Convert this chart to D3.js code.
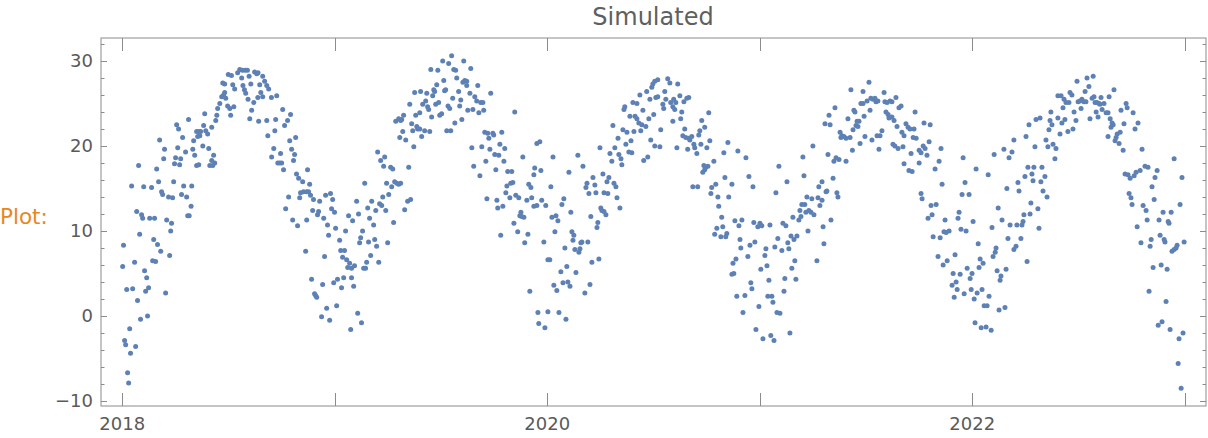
<!DOCTYPE html>
<html>
<head>
<meta charset="utf-8">
<script src="https://cdn.jsdelivr.net/npm/d3@7"></script>
<style>
html,body{margin:0;padding:0;background:#fff;}
svg{display:block;}
</style>
</head>
<body>
<svg id="chart" width="1208" height="438"></svg>
<script>
// Decimal-year / value readings of the simulated series, grouped by time window
const seg01 = [[2018.312,23.1],[2018.256,22.5],[2018.265,22.0],[2018.284,21.0],[2018.176,20.7],[2018.261,19.8],[2018.199,19.6],[2018.298,19.3],[2018.251,18.6],[2018.275,18.5],[2018.195,18.5],[2018.246,17.9],[2018.270,17.8],[2018.077,17.7],[2018.162,17.3],[2018.171,15.8],[2018.242,15.8],[2018.044,15.3],[2018.101,15.2],[2018.138,15.1],[2018.289,15.3],[2018.185,14.6],[2018.190,14.3],[2018.279,14.3],[2018.303,14.0],[2018.218,14.0],[2018.237,13.9],[2018.308,11.8],[2018.315,11.8],[2018.068,12.3],[2018.091,11.9],[2018.096,11.5],[2018.129,11.5],[2018.152,11.5],[2018.209,11.3],[2018.232,10.9],[2018.228,10.0],[2018.082,9.6],[2018.148,9.0],[2018.166,8.4],[2018.006,8.3],[2018.181,7.6],[2018.223,7.1],[2018.058,6.3],[2018.143,6.5],[2018.157,6.4],[2018.002,5.8],[2018.105,5.3],[2018.115,4.5],[2018.021,3.1],[2018.049,3.2],[2018.124,3.3],[2018.110,2.9],[2018.204,2.7],[2018.072,1.8],[2018.086,-0.4],[2018.119,0.0],[2018.035,-1.5],[2018.011,-2.9],[2018.016,-3.4],[2018.063,-3.6],[2018.039,-4.4],[2018.025,-6.7],[2018.030,-7.9]];
const seg02 = [[2018.499,28.4],[2018.514,28.3],[2018.543,28.6],[2018.553,29.0],[2018.565,28.9],[2018.578,28.9],[2018.589,28.9],[2018.623,28.7],[2018.633,28.5],[2018.639,28.6],[2018.562,28.0],[2018.597,28.2],[2018.661,28.2],[2018.473,27.4],[2018.482,27.3],[2018.520,27.2],[2018.529,26.7],[2018.568,27.1],[2018.575,26.6],[2018.605,27.3],[2018.647,27.2],[2018.670,27.6],[2018.680,27.1],[2018.689,26.7],[2018.482,26.3],[2018.477,26.0],[2018.468,25.8],[2018.487,25.6],[2018.581,26.2],[2018.652,26.3],[2018.661,25.8],[2018.702,25.7],[2018.727,25.9],[2018.459,25.0],[2018.592,25.5],[2018.619,25.1],[2018.638,25.7],[2018.449,24.4],[2018.496,24.7],[2018.506,24.4],[2018.525,24.6],[2018.609,24.2],[2018.388,23.8],[2018.445,23.6],[2018.510,23.6],[2018.440,23.0],[2018.600,23.2],[2018.642,22.9],[2018.680,23.0],[2018.722,23.1],[2018.383,22.4],[2018.421,22.2],[2018.350,21.7],[2018.360,21.7],[2018.369,21.7],[2018.393,21.8],[2018.402,21.4],[2018.355,21.1],[2018.365,21.2],[2018.336,20.6],[2018.379,20.0],[2018.407,19.7],[2018.332,19.6],[2018.713,19.7],[2018.703,18.7],[2018.341,18.9],[2018.430,18.9],[2018.718,21.8],[2018.685,21.2],[2018.421,18.3],[2018.435,18.0],[2018.412,17.7],[2018.426,17.7],[2018.350,17.7],[2018.360,17.8],[2018.732,18.0],[2018.741,18.0],[2018.327,15.3],[2018.324,12.9]];
const seg03 = [[2018.755,24.3],[2018.792,23.7],[2018.778,23.0],[2018.764,22.4],[2018.788,20.6],[2018.816,21.0],[2018.797,19.6],[2018.811,19.0],[2018.806,18.3],[2018.745,19.1],[2018.750,18.0],[2018.759,17.2],[2018.872,17.2],[2018.820,16.7],[2018.830,16.2],[2018.849,15.8],[2018.882,15.5],[2018.783,14.0],[2018.769,12.6],[2018.839,14.5],[2018.835,13.9],[2018.853,14.6],[2018.868,14.6],[2018.877,14.6],[2018.886,14.2],[2018.900,13.7],[2018.929,13.5],[2018.957,14.2],[2018.980,14.4],[2018.990,13.7],[2018.896,12.4],[2018.924,12.3],[2018.919,11.9],[2018.948,11.5],[2018.985,12.6],[2018.999,12.2],[2018.802,11.3],[2018.825,10.6],[2018.868,11.3],[2018.966,10.7],[2018.971,9.5],[2019.004,10.3],[2019.023,8.9],[2019.051,10.0],[2018.863,7.6],[2018.952,7.0],[2019.028,7.7],[2019.046,7.7],[2019.037,6.9],[2019.056,6.6],[2019.061,5.7],[2019.070,6.2],[2019.093,5.9],[2019.079,5.6],[2018.891,4.3],[2018.943,3.7],[2018.905,2.6],[2018.910,2.4],[2018.915,2.2],[2018.995,3.9],[2019.013,4.3],[2019.032,3.3],[2019.042,4.5],[2019.079,4.5],[2019.089,3.5],[2018.962,0.9],[2019.009,1.2],[2018.938,-0.1],[2018.976,-0.5],[2019.108,0.3],[2019.126,-0.8],[2019.075,-1.6],[2019.141,15.6],[2019.103,13.5],[2019.155,12.7],[2019.065,11.8],[2019.084,11.2],[2019.112,12.0],[2019.164,11.5],[2019.131,10.0],[2019.122,9.2],[2019.117,8.6],[2019.159,8.7],[2019.150,6.3],[2019.136,5.6],[2019.145,5.6]];
const seg04 = [[2019.550,30.6],[2019.508,30.0],[2019.536,29.7],[2019.452,29.0],[2019.485,28.9],[2019.560,29.0],[2019.569,28.9],[2019.376,26.3],[2019.404,26.4],[2019.433,26.2],[2019.466,26.6],[2019.470,26.4],[2019.461,25.9],[2019.574,28.0],[2019.480,27.2],[2019.513,27.7],[2019.522,26.6],[2019.517,26.5],[2019.583,26.4],[2019.353,24.9],[2019.414,24.9],[2019.428,25.3],[2019.437,24.6],[2019.442,24.3],[2019.475,24.9],[2019.489,25.1],[2019.533,24.7],[2019.541,24.4],[2019.555,25.6],[2019.588,24.7],[2019.381,23.6],[2019.400,23.9],[2019.456,23.4],[2019.494,23.6],[2019.503,23.8],[2019.287,22.9],[2019.301,23.2],[2019.310,23.0],[2019.324,23.6],[2019.315,23.1],[2019.362,22.6],[2019.386,22.3],[2019.390,22.0],[2019.400,22.0],[2019.367,21.8],[2019.423,21.8],[2019.447,21.7],[2019.565,22.7],[2019.527,21.8],[2019.546,21.8],[2019.320,21.7],[2019.306,21.0],[2019.334,20.7],[2019.409,21.1],[2019.372,19.9],[2019.202,19.3],[2019.235,18.7],[2019.216,18.3],[2019.230,17.6],[2019.263,17.5],[2019.273,17.3],[2019.348,17.5],[2019.244,15.6],[2019.268,15.2],[2019.282,15.8],[2019.292,15.6],[2019.301,15.5],[2019.310,15.6],[2019.226,14.0],[2019.254,14.3],[2019.174,13.5],[2019.211,13.2],[2019.221,13.0],[2019.357,13.7],[2019.343,13.5],[2019.329,12.5],[2019.193,12.4],[2019.240,12.4],[2019.277,11.0],[2019.183,10.7],[2019.188,9.0],[2019.249,8.6],[2019.197,8.2],[2019.169,7.1],[2019.207,6.3]];
const seg05 = [[2019.607,30.0],[2019.640,29.1],[2019.612,27.7],[2019.621,27.6],[2019.603,27.5],[2019.621,27.1],[2019.673,27.1],[2019.636,26.2],[2019.659,25.8],[2019.668,25.3],[2019.687,25.1],[2019.697,25.1],[2019.734,26.2],[2019.593,25.4],[2019.626,24.2],[2019.650,24.3],[2019.678,23.9],[2019.701,24.2],[2019.598,23.1],[2019.847,24.0],[2019.706,21.6],[2019.720,21.5],[2019.744,21.5],[2019.748,21.3],[2019.786,21.6],[2019.725,20.9],[2019.645,19.8],[2019.692,19.9],[2019.730,19.6],[2019.777,20.2],[2019.800,19.7],[2019.753,19.0],[2019.772,18.9],[2019.796,18.2],[2019.885,18.7],[2019.951,20.3],[2019.965,20.5],[2019.654,17.6],[2019.711,18.2],[2019.758,17.2],[2019.683,16.5],[2019.814,17.0],[2019.833,17.0],[2019.810,15.3],[2019.828,15.6],[2019.838,15.7],[2019.805,14.5],[2019.824,13.9],[2019.941,17.4],[2019.970,17.1],[2019.937,16.6],[2019.913,15.5],[2019.923,15.1],[2019.927,13.9],[2019.904,13.6],[2019.937,12.9],[2019.951,13.0],[2019.974,13.6],[2019.993,13.0],[2019.852,14.2],[2019.866,13.9],[2019.876,12.2],[2019.871,11.8],[2019.880,11.7],[2019.890,11.6],[2019.716,13.8],[2019.763,13.6],[2019.767,12.7],[2019.791,12.9],[2019.843,10.9],[2019.861,9.9],[2019.909,9.6],[2019.894,8.6],[2019.781,9.5],[2019.984,8.7],[2020.003,6.6],[2020.012,6.6],[2019.918,2.9],[2019.956,0.4],[2020.003,0.5],[2019.960,-0.9],[2019.989,-1.4]];
const seg06 = [[2020.436,26.0],[2020.403,25.1],[2020.422,25.0],[2020.365,24.6],[2020.361,24.3],[2020.389,23.5],[2020.413,23.5],[2020.422,23.2],[2020.431,22.7],[2020.309,22.4],[2020.356,21.9],[2020.375,21.6],[2020.408,21.7],[2020.333,20.9],[2020.318,19.8],[2020.394,20.6],[2020.370,20.2],[2020.384,19.3],[2020.398,19.2],[2020.248,19.8],[2020.295,19.1],[2020.304,18.2],[2020.337,19.0],[2020.347,18.5],[2020.351,17.8],[2020.144,18.9],[2020.168,17.6],[2020.027,18.7],[2020.102,16.9],[2020.262,16.7],[2020.215,16.3],[2020.187,15.6],[2020.182,15.1],[2020.224,15.4],[2020.196,14.4],[2020.229,14.5],[2020.267,14.5],[2020.285,14.4],[2020.281,15.8],[2020.290,16.3],[2020.314,15.6],[2020.323,15.2],[2020.328,13.9],[2020.342,12.7],[2020.017,15.2],[2020.078,13.8],[2020.069,13.1],[2020.111,12.2],[2020.252,12.7],[2020.257,12.4],[2020.267,12.3],[2020.276,11.9],[2020.205,11.7],[2020.238,11.0],[2020.234,10.4],[2020.041,11.8],[2020.022,11.6],[2020.050,11.2],[2020.036,9.9],[2020.116,9.9],[2020.125,9.5],[2020.121,8.9],[2020.158,8.6],[2020.163,8.7],[2020.154,7.9],[2020.149,7.5],[2020.130,7.8],[2020.191,8.7],[2020.083,8.0],[2020.210,6.3],[2020.243,6.7],[2020.064,5.2],[2020.092,5.8],[2020.135,5.1],[2020.031,3.6],[2020.045,3.0],[2020.074,3.9],[2020.097,4.0],[2020.107,3.5],[2020.201,3.7],[2020.177,2.7],[2020.055,0.4],[2020.088,-0.4]];
const seg07 = [[2020.520,27.8],[2020.567,27.9],[2020.577,27.4],[2020.614,27.3],[2020.497,27.3],[2020.506,27.6],[2020.492,26.9],[2020.468,26.4],[2020.553,26.4],[2020.624,25.9],[2020.666,25.7],[2020.657,25.6],[2020.643,25.2],[2020.595,25.5],[2020.605,25.1],[2020.511,25.7],[2020.520,25.8],[2020.483,25.5],[2020.558,25.5],[2020.581,25.1],[2020.544,24.9],[2020.548,24.4],[2020.591,24.6],[2020.600,24.3],[2020.450,24.2],[2020.633,24.0],[2020.760,23.9],[2020.501,23.7],[2020.478,23.2],[2020.628,23.2],[2020.591,22.9],[2020.727,23.0],[2020.445,22.5],[2020.464,22.3],[2020.440,21.8],[2020.741,22.2],[2020.718,21.8],[2020.713,21.3],[2020.534,21.9],[2020.647,22.0],[2020.487,20.7],[2020.638,21.2],[2020.652,21.0],[2020.666,20.9],[2020.680,21.1],[2020.671,20.7],[2020.765,20.6],[2020.850,20.4],[2020.506,20.0],[2020.530,19.9],[2020.610,19.8],[2020.661,19.6],[2020.690,20.2],[2020.694,19.8],[2020.723,20.2],[2020.751,19.8],[2020.704,19.1],[2020.831,19.2],[2020.473,18.7],[2020.454,18.3],[2020.784,18.2],[2020.737,17.7],[2020.746,17.5],[2020.756,17.6],[2020.741,17.2],[2020.732,16.9],[2020.836,16.3],[2020.793,15.5],[2020.774,15.1],[2020.770,14.4],[2020.803,14.0],[2020.854,14.0],[2020.685,15.2],[2020.708,15.2],[2020.807,12.9],[2020.821,11.6],[2020.798,10.3],[2020.826,10.5],[2020.788,9.6],[2020.817,9.3],[2020.840,9.3],[2020.845,9.7]];
const seg08 = [[2021.250,20.0],[2021.203,18.7],[2021.090,17.6],[2020.897,19.4],[2020.935,18.6],[2020.949,16.4],[2020.968,15.2],[2020.869,15.5],[2021.128,15.8],[2021.076,14.5],[2021.208,16.5],[2021.222,14.0],[2021.245,13.8],[2021.274,13.9],[2021.283,13.0],[2021.278,15.2],[2021.198,13.1],[2021.212,13.1],[2021.189,12.4],[2021.217,12.2],[2021.231,12.4],[2021.241,12.2],[2021.255,11.9],[2021.227,10.0],[2021.184,11.3],[2021.156,11.6],[2021.194,11.7],[2020.883,11.2],[2020.916,11.3],[2020.972,11.0],[2020.991,10.5],[2021.001,10.9],[2021.010,10.6],[2021.048,10.7],[2021.109,10.9],[2021.123,10.6],[2020.902,10.6],[2021.085,9.1],[2021.147,9.4],[2021.175,9.4],[2021.161,9.0],[2021.132,8.6],[2021.137,7.9],[2021.104,7.7],[2020.907,9.0],[2020.911,8.0],[2020.977,8.7],[2020.954,8.3],[2021.029,7.9],[2021.024,7.1],[2021.071,8.1],[2020.888,6.7],[2020.874,6.2],[2020.869,4.9],[2020.878,5.0],[2021.034,5.9],[2021.005,5.5],[2020.944,7.0],[2021.165,6.5],[2021.151,5.6],[2021.269,6.5],[2021.118,4.4],[2021.170,4.3],[2021.043,4.2],[2020.958,3.9],[2020.963,3.2],[2021.114,2.9],[2020.892,2.3],[2020.930,2.4],[2021.038,2.3],[2021.057,2.3],[2021.062,1.6],[2020.996,1.1],[2020.921,0.4],[2021.081,0.4],[2021.095,0.3],[2020.982,-1.6],[2021.015,-2.7],[2021.052,-2.3],[2021.067,-2.9],[2021.142,-2.0]];
const seg09 = [[2021.514,27.5],[2021.429,26.6],[2021.486,26.4],[2021.585,26.3],[2021.641,25.7],[2021.505,25.3],[2021.523,25.6],[2021.533,25.5],[2021.542,25.6],[2021.547,25.2],[2021.556,25.3],[2021.476,25.0],[2021.486,25.0],[2021.589,25.2],[2021.599,25.1],[2021.613,25.3],[2021.622,25.2],[2021.655,24.5],[2021.665,24.7],[2021.354,24.5],[2021.443,24.2],[2021.448,24.0],[2021.519,24.2],[2021.594,24.0],[2021.604,23.7],[2021.608,23.3],[2021.622,23.4],[2021.632,23.0],[2021.326,23.6],[2021.307,22.6],[2021.331,22.5],[2021.415,23.2],[2021.491,23.5],[2021.458,22.9],[2021.467,22.9],[2021.453,22.4],[2021.462,22.3],[2021.688,22.6],[2021.698,22.2],[2021.707,22.0],[2021.646,22.3],[2021.669,21.6],[2021.679,21.2],[2021.378,21.6],[2021.387,21.2],[2021.396,21.1],[2021.382,21.0],[2021.406,20.9],[2021.425,21.0],[2021.439,21.9],[2021.495,21.1],[2021.575,21.8],[2021.566,21.2],[2021.552,21.2],[2021.528,20.7],[2021.472,20.3],[2021.627,20.2],[2021.636,20.0],[2021.651,19.7],[2021.674,19.9],[2021.561,19.6],[2021.436,19.5],[2021.321,19.0],[2021.359,18.6],[2021.349,18.2],[2021.373,18.4],[2021.406,18.2],[2021.679,17.9],[2021.702,17.1],[2021.345,16.2],[2021.293,15.8],[2021.316,14.7],[2021.312,14.6],[2021.363,14.5],[2021.368,14.0],[2021.293,13.6],[2021.335,11.3],[2021.298,10.5],[2021.302,8.5]];
const seg10 = [[2021.731,24.0],[2021.773,22.7],[2021.802,22.5],[2021.726,22.0],[2021.722,21.0],[2021.736,20.9],[2021.797,20.5],[2021.769,20.0],[2021.778,19.7],[2021.750,19.5],[2021.759,19.2],[2021.787,18.9],[2021.712,19.1],[2021.853,19.7],[2021.844,18.2],[2021.750,18.0],[2021.825,17.3],[2021.717,17.0],[2022.103,19.0],[2021.957,18.6],[2022.018,17.3],[2022.075,16.6],[2021.858,15.5],[2021.966,15.7],[2021.952,14.3],[2021.985,14.3],[2021.759,14.4],[2021.764,13.8],[2021.806,13.0],[2021.830,13.1],[2021.811,11.9],[2021.792,11.5],[2021.938,12.2],[2021.933,11.5],[2021.872,11.3],[2022.004,11.1],[2022.122,12.7],[2022.093,10.4],[2021.816,9.3],[2021.849,9.2],[2021.867,9.9],[2021.877,9.8],[2021.891,10.0],[2021.947,10.2],[2021.971,10.0],[2022.028,8.5],[2022.112,8.0],[2022.108,7.5],[2022.098,7.0],[2021.839,7.0],[2021.863,6.0],[2021.882,6.5],[2021.919,7.2],[2022.037,6.7],[2022.051,6.2],[2022.032,5.7],[2021.999,5.0],[2021.976,5.6],[2021.910,5.0],[2021.943,4.9],[2021.990,4.4],[2021.924,4.0],[2021.905,3.6],[2021.929,3.1],[2021.915,2.2],[2021.962,2.6],[2021.995,3.1],[2022.009,2.0],[2022.023,2.7],[2022.046,3.1],[2022.079,2.3],[2022.117,5.3],[2022.131,4.2],[2022.056,1.2],[2022.070,1.2],[2022.126,0.7],[2022.013,-0.8],[2022.042,-1.4],[2022.065,-1.3],[2022.089,-1.7]];
const seg11 = [[2022.493,27.6],[2022.540,28.0],[2022.549,27.0],[2022.531,26.4],[2022.403,25.9],[2022.418,25.9],[2022.460,26.3],[2022.469,26.0],[2022.432,25.5],[2022.441,25.1],[2022.455,25.1],[2022.427,24.5],[2022.512,24.4],[2022.479,24.0],[2022.554,23.2],[2022.370,24.0],[2022.319,23.3],[2022.300,23.1],[2022.267,22.5],[2022.403,23.3],[2022.436,23.1],[2022.422,22.7],[2022.366,23.0],[2022.375,22.5],[2022.361,21.9],[2022.488,23.0],[2022.450,21.7],[2022.474,22.0],[2022.413,21.4],[2022.498,25.2],[2022.507,25.3],[2022.516,25.5],[2022.526,25.2],[2022.535,25.2],[2022.196,20.7],[2022.253,21.1],[2022.295,19.9],[2022.347,20.7],[2022.356,19.9],[2022.380,20.2],[2022.394,19.7],[2022.389,18.5],[2022.149,19.6],[2022.187,19.3],[2022.173,18.6],[2022.262,17.5],[2022.290,17.5],[2022.328,17.5],[2022.248,16.4],[2022.281,16.7],[2022.286,15.9],[2022.323,15.8],[2022.342,16.4],[2022.215,15.7],[2022.220,14.7],[2022.163,15.0],[2022.333,14.7],[2022.352,14.0],[2022.276,13.3],[2022.309,12.6],[2022.243,11.9],[2022.272,12.0],[2022.140,11.3],[2022.178,10.7],[2022.210,10.7],[2022.234,10.7],[2022.239,11.1],[2022.314,10.3],[2022.168,9.1],[2022.229,9.1],[2022.196,7.8],[2022.206,8.2],[2022.258,6.4],[2022.159,5.5],[2022.135,4.7],[2022.154,1.0]];
const seg12 = [[2022.569,28.2],[2022.667,26.6],[2022.644,25.8],[2022.606,25.7],[2022.573,25.8],[2022.564,25.6],[2022.578,25.1],[2022.587,25.1],[2022.597,25.0],[2022.620,25.0],[2022.601,24.9],[2022.583,24.0],[2022.611,24.3],[2022.630,23.9],[2022.639,23.9],[2022.592,23.4],[2022.649,23.2],[2022.658,22.7],[2022.663,22.5],[2022.653,22.2],[2022.714,22.6],[2022.724,25.0],[2022.729,24.5],[2022.700,24.2],[2022.757,23.9],[2022.780,22.7],[2022.766,22.0],[2022.682,21.4],[2022.696,21.6],[2022.677,21.0],[2022.672,20.6],[2022.691,20.3],[2022.639,21.1],[2022.710,19.5],[2022.799,19.6],[2022.950,18.5],[2022.813,17.6],[2022.827,17.5],[2022.790,17.1],[2022.870,17.1],[2022.771,16.9],[2022.762,16.5],[2022.719,16.7],[2022.733,16.6],[2022.743,16.2],[2022.860,16.3],[2022.987,16.3],[2022.846,15.2],[2022.856,13.7],[2022.738,14.4],[2022.747,13.9],[2022.752,13.1],[2022.804,13.0],[2022.818,12.4],[2022.823,11.3],[2022.776,10.5],[2022.898,12.2],[2022.936,12.2],[2022.879,11.3],[2022.922,11.1],[2022.926,10.9],[2022.978,13.1],[2022.884,9.5],[2022.903,9.0],[2022.907,8.7],[2022.842,9.0],[2022.794,8.6],[2022.837,8.2],[2022.997,8.7],[2022.964,8.3],[2022.959,8.0],[2022.950,7.8],[2022.940,7.6],[2022.851,5.7],[2022.889,6.0],[2022.917,5.5],[2022.832,2.9],[2022.912,1.7],[2022.893,-0.7],[2022.875,-1.1],[2022.931,-1.6],[2022.992,-2.0],[2022.973,-2.7],[2022.969,-5.6],[2022.983,-8.5]];

const yTicksMajor = [-10, 0, 10, 20, 30];
const xTicksYears = [2018, 2019, 2020, 2021, 2022, 2023];
const xTickLabels = {2018: "2018", 2020: "2020", 2022: "2022"};
const titleText = "Simulated";
const sideLabel = "Plot:";

const data = [].concat(seg01, seg02, seg03, seg04, seg05, seg06, seg07, seg08, seg09, seg10, seg11, seg12);

const svg = d3.select("#chart");
const L = 101, R = 1206, T = 38, B = 406;
const x = d3.scaleLinear().domain([2017.9, 2023.1]).range([L, R]);
const y = d3.scaleLinear().domain([-10.6, 32.7]).range([B, T]);

const frameColor = "#8c8c8c";
const textColor = "#5a5a5a";
const font = "'DejaVu Sans', sans-serif";

// title
svg.append("text").attr("x", 653).attr("y", 25).attr("text-anchor", "middle")
  .attr("font-family", font).attr("font-size", 24).attr("fill", "#5f5f5f").text(titleText);

// side label
svg.append("text").attr("x", 0).attr("y", 224)
  .attr("font-family", font).attr("font-size", 21.5).attr("fill", "#e8871e").text(sideLabel);

const g = svg.append("g");

// points
g.selectAll("circle").data(data).enter().append("circle")
  .attr("cx", d => x(d[0])).attr("cy", d => y(d[1])).attr("r", 2.5)
  .attr("fill", "#5e81b5");

// frame
g.append("rect").attr("x", L).attr("y", T).attr("width", R - L).attr("height", B - T)
  .attr("fill", "none").attr("stroke", frameColor).attr("stroke-width", 1);

// y ticks (left and right, inward)
const yMinor = d3.range(-10, 33, 2).filter(v => !yTicksMajor.includes(v));
const tickG = svg.append("g").attr("stroke", frameColor).attr("stroke-width", 1);
yTicksMajor.forEach(v => {
  const yy = Math.round(y(v)) + 0.5;
  tickG.append("line").attr("x1", L).attr("x2", L + 6).attr("y1", yy).attr("y2", yy);
  tickG.append("line").attr("x1", R).attr("x2", R - 6).attr("y1", yy).attr("y2", yy);
});
yMinor.forEach(v => {
  const yy = Math.round(y(v)) + 0.5;
  tickG.append("line").attr("x1", L).attr("x2", L + 3.5).attr("y1", yy).attr("y2", yy);
  tickG.append("line").attr("x1", R).attr("x2", R - 3.5).attr("y1", yy).attr("y2", yy);
});
// x ticks
xTicksYears.forEach(v => {
  const xx = Math.round(x(v)) + 0.5;
  tickG.append("line").attr("x1", xx).attr("x2", xx).attr("y1", B).attr("y2", B - 13);
  tickG.append("line").attr("x1", xx).attr("x2", xx).attr("y1", T).attr("y2", T + 13);
});

// y tick labels
svg.selectAll("text.ylab").data(yTicksMajor).enter().append("text")
  .attr("class", "ylab").attr("x", L - 8).attr("y", d => y(d)).attr("dy", "0.36em")
  .attr("text-anchor", "end").attr("font-family", font).attr("font-size", 18)
  .attr("fill", textColor).text(d => d < 0 ? "\u2212" + Math.abs(d) : d);

// x tick labels
svg.selectAll("text.xlab").data(xTicksYears.filter(v => xTickLabels[v])).enter().append("text")
  .attr("class", "xlab").attr("x", d => x(d)).attr("y", 430)
  .attr("text-anchor", "middle").attr("font-family", font).attr("font-size", 18)
  .attr("fill", textColor).text(d => xTickLabels[d]);
</script>
</body>
</html>
